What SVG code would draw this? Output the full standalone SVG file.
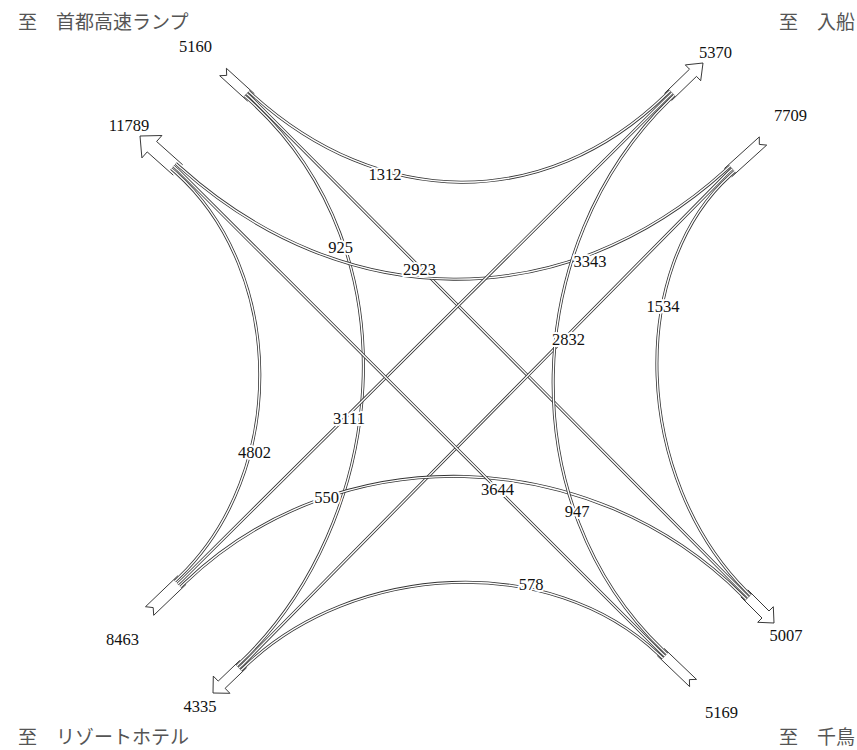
<svg xmlns="http://www.w3.org/2000/svg" width="857" height="750" viewBox="0 0 857 750">
<style>
.term{fill:#fff;stroke:#222;stroke-width:0.9;stroke-linejoin:miter}
.band{fill:none;stroke:#333;stroke-width:3}
.gap{fill:none;stroke:#fff;stroke-width:1.4}
.lbl{font-family:"Liberation Serif","Times New Roman",serif;font-size:16.5px;fill:#111;text-anchor:middle}
.halo{stroke:#fff;stroke-width:4;stroke-linejoin:round;paint-order:stroke}
.dir{font-family:"Noto Sans CJK JP","Noto Sans",sans-serif;font-size:19px;fill:#555}
</style>
<rect width="857" height="750" fill="#fff"/>

<g id="direction-labels">
<text class="dir" x="18" y="29">至　首都高速ランプ</text>
<text class="dir" x="779" y="29">至　入船</text>
<text class="dir" x="18" y="744">至　リゾートホテル</text>
<text class="dir" x="779" y="744">至　千鳥</text>
</g>

<g id="node-11789">
<path class="term" d="M182.7,164.8 L156.6,141.5 L161.9,135.5 L140,136 L141.9,157.9 L147.2,151.9 L173.3,175.2"/>
<text class="lbl" x="129" y="131">11789</text>
</g>
<g id="node-5160">
<path class="term" d="M254.4,93.8 L226.4,68.3 L226.7,75.4 L219.7,75.7 L247.7,101.2"/>
<text class="lbl" x="195.5" y="52">5160</text>
</g>
<g id="node-5370">
<path class="term" d="M671.5,100.6 L696.5,76.4 L700.7,80.7 L703,63 L685.3,64.9 L689.5,69.2 L664.5,93.4"/>
<text class="lbl" x="715.5" y="58">5370</text>
</g>
<g id="node-7709">
<path class="term" d="M731.7,176.8 L766.7,145.1 L759.3,144.4 L759.3,136.9 L724.3,168.6"/>
<text class="lbl" x="790.5" y="121">7709</text>
</g>
<g id="node-8463">
<path class="term" d="M177.9,575.7 L145.5,606.7 L153.2,607.6 L153.7,615.3 L186.1,584.3"/>
<text class="lbl" x="122.5" y="645">8463</text>
</g>
<g id="node-4335">
<path class="term" d="M239.8,660.4 L218.2,681.1 L213.3,676.1 L213,693 L229.9,693.3 L225.1,688.3 L246.7,667.6"/>
<text class="lbl" x="200" y="712">4335</text>
</g>
<g id="node-5007">
<path class="term" d="M740.8,596.8 L762,618 L757.7,622.3 L774,623 L773.3,606.7 L769,611 L747.8,589.8"/>
<text class="lbl" x="786" y="641">5007</text>
</g>
<g id="node-5169">
<path class="term" d="M657.2,655.6 L689.6,686.6 L689.4,679.6 L696.5,679.4 L664.1,648.4"/>
<text class="lbl" x="721.5" y="718">5169</text>
</g>

<g id="connectors">
<g id="flow-1312">
<path class="band" d="M248.5,91.3 L253,95.3 C378.8,209.2 544,213.3 665.9,94.85 L670.2,90.7"/>
<path class="gap" d="M248.5,91.3 L253,95.3 C378.8,209.2 544,213.3 665.9,94.85 L670.2,90.7"/>
</g>
<g id="flow-925">
<path class="band" d="M244.5,95.7 L249,99.7 C419.2,253.8 385.1,523.8 241.1,661.8 L236.8,666"/>
<path class="gap" d="M244.5,95.7 L249,99.7 C419.2,253.8 385.1,523.8 241.1,661.8 L236.8,666"/>
</g>
<g id="flow-2923">
<path class="band" d="M246.5,93.5 L251,97.5 L744.3,593.3 L748.5,597.5"/>
<path class="gap" d="M246.5,93.5 L251,97.5 L744.3,593.3 L748.5,597.5"/>
</g>
<g id="flow-3343">
<path class="band" d="M730.1,166.1 L725.65,170.1 C562.9,317.5 344,314.4 180.3,167.4 L175.8,163.4"/>
<path class="gap" d="M730.1,166.1 L725.65,170.1 C562.9,317.5 344,314.4 180.3,167.4 L175.8,163.4"/>
</g>
<g id="flow-1534">
<path class="band" d="M734.8,171.3 L730.35,175.3 C626.8,269.1 633.3,478.1 746.4,591.2 L750.6,595.4"/>
<path class="gap" d="M734.8,171.3 L730.35,175.3 C626.8,269.1 633.3,478.1 746.4,591.2 L750.6,595.4"/>
</g>
<g id="flow-2832">
<path class="band" d="M732.4,168.7 L728,172.7 L243.2,664 L238.9,668.1"/>
<path class="gap" d="M732.4,168.7 L728,172.7 L243.2,664 L238.9,668.1"/>
</g>
<g id="flow-4802">
<path class="band" d="M174.9,581.2 L179.2,577.1 C287.2,473.6 287.3,272.8 175.7,172.6 L171.2,168.6"/>
<path class="gap" d="M174.9,581.2 L179.2,577.1 C287.2,473.6 287.3,272.8 175.7,172.6 L171.2,168.6"/>
</g>
<g id="flow-3111">
<path class="band" d="M177.7,584.1 L182,580 L668,97 L672.3,92.8"/>
<path class="gap" d="M177.7,584.1 L182,580 L668,97 L672.3,92.8"/>
</g>
<g id="flow-550">
<path class="band" d="M180.5,587 L184.8,582.9 C339.6,434.5 590.2,443.4 742.2,595.4 L746.4,599.6"/>
<path class="gap" d="M180.5,587 L184.8,582.9 C339.6,434.5 590.2,443.4 742.2,595.4 L746.4,599.6"/>
</g>
<g id="flow-3644">
<path class="band" d="M664.9,656.1 L660.6,652 L178,170 L173.5,166"/>
<path class="gap" d="M664.9,656.1 L660.6,652 L178,170 L173.5,166"/>
</g>
<g id="flow-947">
<path class="band" d="M667,653.9 L662.7,649.8 C511.5,504.9 519.5,245.6 670.1,99.2 L674.4,95"/>
<path class="gap" d="M667,653.9 L662.7,649.8 C511.5,504.9 519.5,245.6 670.1,99.2 L674.4,95"/>
</g>
<g id="flow-578">
<path class="band" d="M662.8,658.3 L658.5,654.2 C550.5,550.7 353.3,562.7 245.3,666.2 L241,670.3"/>
<path class="gap" d="M662.8,658.3 L658.5,654.2 C550.5,550.7 353.3,562.7 245.3,666.2 L241,670.3"/>
</g>
</g>

<g id="flow-labels">
<text class="lbl halo" x="385" y="180">1312</text>
<text class="lbl halo" x="340.5" y="253">925</text>
<text class="lbl halo" x="419.5" y="275">2923</text>
<text class="lbl halo" x="590" y="267">3343</text>
<text class="lbl halo" x="663" y="312">1534</text>
<text class="lbl halo" x="568.5" y="345">2832</text>
<text class="lbl halo" x="349" y="424">3111</text>
<text class="lbl halo" x="254.5" y="458">4802</text>
<text class="lbl halo" x="326.5" y="503">550</text>
<text class="lbl halo" x="497.5" y="495">3644</text>
<text class="lbl halo" x="577" y="517">947</text>
<text class="lbl halo" x="531" y="590">578</text>
</g>
</svg>
